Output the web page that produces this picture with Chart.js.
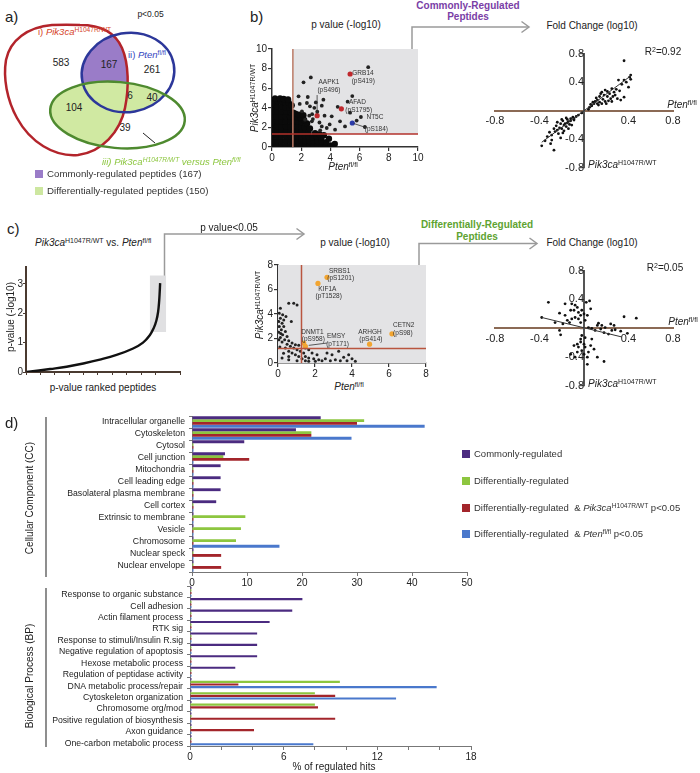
<!DOCTYPE html>
<html><head><meta charset="utf-8">
<script src="https://cdn.jsdelivr.net/npm/chart.js@4.4.0/dist/chart.umd.min.js"></script>
<style>
body{margin:0;background:#fff;width:700px;height:773px;position:relative;overflow:hidden;font-family:"Liberation Sans",Arial,sans-serif;color:#222}
.t{position:absolute;white-space:nowrap;line-height:1}
canvas{position:absolute}
sup{font-size:0.7em;vertical-align:0.5em;line-height:0}
.sq{position:absolute;width:8px;height:8px}
</style></head><body>
<svg id="venn" width="250" height="200" style="position:absolute;left:0;top:0">
<defs>
<path id="redShape" d="M80,25 C100,25 115,32 122,48 C129,64 129,88 125,108 C120,132 102,152 78,155 C54,157 30,142 17,118 C7,100 3,78 6,60 C10,40 28,27 52,25 C62,24.5 71,24.5 80,25 Z"/>
<ellipse id="blueShape" cx="128" cy="72.5" rx="46.5" ry="39.5" transform="rotate(-10 128 72.5)"/>
<ellipse id="greenShape" cx="117.5" cy="115" rx="67.5" ry="33" transform="rotate(5 117.5 115)"/>
<clipPath id="cRed"><use href="#redShape"/></clipPath>
<clipPath id="cBlue"><use href="#blueShape"/></clipPath>
</defs>
<g clip-path="url(#cRed)"><use href="#blueShape" fill="#9a7cc8"/></g>
<g clip-path="url(#cRed)"><use href="#greenShape" fill="#d0e9a2"/></g>
<g clip-path="url(#cBlue)"><use href="#greenShape" fill="#d0e9a2"/></g>
<use href="#redShape" fill="none" stroke="#b3242b" stroke-width="2.5"/>
<use href="#blueShape" fill="none" stroke="#2c379a" stroke-width="2.5"/>
<use href="#greenShape" fill="none" stroke="#4e8a2f" stroke-width="2.5"/>
<line x1="143" y1="133" x2="155" y2="143" stroke="#222" stroke-width="1"/>
</svg>
<svg width="700" height="773" style="position:absolute;left:0;top:0;pointer-events:none">
<g fill="none" stroke="#9a9a9a" stroke-width="1.5">
<path d="M412,56 V27 H528"/><path d="M521.5,21.5 L529,27 L521.5,32.5"/>
<path d="M164.5,278 V234 H303"/><path d="M296.5,228.5 L304,234 L296.5,239.5"/>
<path d="M419,273 V243.5 H536"/><path d="M529.5,238 L537,243.5 L529.5,249"/>
</g>
<g stroke="#444" stroke-width="1.2"><line x1="46" y1="417" x2="46" y2="577"/><line x1="46" y1="588" x2="46" y2="747"/></g>
</svg>
<script>
// ---------------- DATA ----------------
const ccCategories = ['Intracellular organelle','Cytoskeleton','Cytosol','Cell junction','Mitochondria','Cell leading edge','Basolateral plasma membrane','Cell cortex','Extrinsic to membrane','Vesicle','Chromosome','Nuclear speck','Nuclear envelope'];
const ccCommon   = [23.4,18.9,9.5,6.0,5.2,5.2,5.2,4.4,0,0,0,0,0];
const ccDiff     = [31.3,21.7,0,5.7,0,0,0,0,9.7,8.9,8.0,0,0];
const ccDiffPik  = [30.0,21.7,0,10.4,0,0,0,0,0,0,0,5.3,5.3];
const ccDiffPten = [42.3,29.0,0,0,0,0,0,0,0,0,15.9,0,0];

const bpCategories = ['Response to organic substance','Cell adhesion','Actin filament process','RTK sig','Response to stimuli/Insulin R.sig','Negative regulation of apoptosis','Hexose metabolic process','Regulation of peptidase activity','DNA metabolic process/repair','Cytoskeleton organization','Chromosome org/mod','Positive regulation of biosynthesis','Axon guidance','One-carbon metabolic process'];
const bpCommon   = [0,7.2,6.55,5.1,4.3,4.3,4.3,2.9,0,0,0,0,0,0];
const bpDiff     = [0,0,0,0,0,0,0,0,9.6,8.0,8.0,0,0,0];
const bpDiffPik  = [0,0,0,0,0,0,0,0,3.1,9.3,8.2,9.3,4.1,0];
const bpDiffPten = [0,0,0,0,0,0,0,0,15.8,13.2,0,0,0,7.9];

const seriesColors = ['#4b2b80','#8dc63f','#a3252b','#4a78cc'];

// panel b: p value (-log10) scatter
const bCloud = [
[0.05,0.1],[0.08,0.6],[0.04,1.1],[0.07,1.6],[0.05,2.1],[0.08,2.6],[0.04,3.1],[0.07,3.6],[0.05,4.1],[0.1,4.6],
[0.35,0.12],[0.37,0.62],[0.34,1.12],[0.36,1.62],[0.35,2.12],[0.38,2.6],[0.34,3.12],[0.36,3.62],[0.35,4.12],[0.38,4.7],
[0.65,0.1],[0.66,0.6],[0.64,1.1],[0.67,1.6],[0.65,2.1],[0.66,2.62],[0.64,3.1],[0.67,3.6],[0.65,4.1],[0.62,4.65],
[0.95,0.12],[0.96,0.62],[0.94,1.12],[0.97,1.62],[0.95,2.12],[0.96,2.6],[0.94,3.12],[0.97,3.62],[0.95,4.05],[0.9,4.55],
[1.25,0.1],[1.26,0.6],[1.24,1.1],[1.27,1.6],[1.25,2.1],[1.26,2.62],[1.24,3.1],[1.27,3.55],[1.2,4.0],[1.15,4.5],
[1.48,0.12],[1.5,0.62],[1.47,1.12],[1.5,1.62],[1.48,2.12],[1.5,2.6],[1.46,3.1],[1.45,3.5],
[1.75,0.1],[1.77,0.6],[1.74,1.1],[1.76,1.6],[1.75,2.1],[1.76,2.6],[1.72,3.05],
[2.02,0.12],[2.04,0.62],[2.01,1.12],[2.03,1.6],[2.0,2.1],[2.02,2.55],[1.98,2.95],
[2.28,0.1],[2.3,0.6],[2.27,1.1],[2.3,1.55],[2.25,2.0],
[2.55,0.12],[2.57,0.6],[2.53,1.05],[2.5,1.5],[2.82,0.1],[2.85,0.55],[2.8,1.0],
[3.1,0.12],[3.12,0.6],[3.08,1.05],[3.4,0.1],[3.42,0.55],[3.38,0.95],[3.7,0.12],[3.72,0.5],[4.0,0.15],[4.15,0.08],
[0.2,4.95],[0.55,4.95],[0.8,4.9],[1.1,4.85],[1.35,4.25],[1.6,3.4],[1.85,3.3],[2.15,3.25],[2.4,2.4],[2.6,1.9],
[2.95,1.4],[3.25,1.3],[3.55,1.2],[3.9,0.85],[4.3,0.3],[2.2,2.75]];
const bScatter = [
[6.59,8.15],[2.66,7.1],[2.16,6.6],[5.5,5.2],[5.18,4.62],[1.82,5.17],[3.52,4.83],[3.41,4.22],[2.6,4.15],[2.39,4.49],
[2.05,3.64],[2.27,2.79],[4.09,3.13],[4.66,2.62],[3.75,1.94],[4.32,1.77],[5.0,2.1],[6.09,3.06],[6.36,2.04],[5.8,2.7],
[2.9,4.0],[3.0,4.55],[2.75,3.35],[3.25,2.5],[2.55,3.2],[3.6,3.2],[4.5,4.1],[3.1,3.6],[1.9,4.4],[2.45,5.1],
[3.3,1.7],[3.95,2.3],[2.8,2.85],[5.35,3.5],[3.41,2.1],[2.73,2.62]];
const bRed  = [[5.35,7.45],[4.75,3.9],[3.09,3.2]];
const bBlue = [[5.5,2.45]];
const bCut = [1.43,1.33];
const bLabels = [['GRB14',6.23,7.48],['(pS419)',6.25,6.7],['AAPK1',3.9,6.63],['(pS496)',3.9,5.82],['AFAD',5.85,4.56],['(pS1795)',5.94,3.74],['NT5C',7.05,3.06],['(pS184)',7.15,1.77]];

// panel b: fold change
const bFold = [
[0.36,0.70],[0.42,0.50],[0.41,0.47],[0.42,0.44],[0.31,0.43],[0.36,0.43],[0.40,0.33],[0.36,0.19],[0.15,0.24],[0.19,0.29],
[0.25,0.31],[0.27,0.26],[0.21,0.20],[0.24,0.17],[0.30,0.17],[0.33,0.15],[0.10,0.13],[0.09,0.10],[0.12,0.15],[0.14,0.12],
[0.16,0.10],[0.19,0.13],[0.13,0.08],[0.07,0.07],[0.05,0.05],[0.17,0.16],[0.22,0.14],[0.26,0.20],[0.28,0.22],[0.32,0.28],
[0.18,0.22],[0.11,0.18],[0.20,0.10],[0.23,0.24],[0.14,0.20],[0.08,0.12],[0.29,0.30],[0.34,0.37],[0.38,0.40],[0.25,0.13],
[0.16,0.26],[0.12,0.10],[0.06,0.09],[0.21,0.27],[0.04,0.02],
[-0.38,-0.49],[-0.27,-0.55],[-0.33,-0.36],[-0.29,-0.34],[-0.24,-0.27],[-0.20,-0.25],[-0.17,-0.18],[-0.14,-0.15],[-0.09,-0.13],[-0.12,-0.11],
[-0.15,-0.12],[-0.18,-0.20],[-0.21,-0.18],[-0.16,-0.22],[-0.23,-0.32],[-0.29,-0.41],[-0.21,-0.38],[-0.25,-0.21],[-0.19,-0.14],[-0.13,-0.19],
[-0.10,-0.09],[-0.07,-0.08],[-0.05,-0.06],[-0.22,-0.24],[-0.26,-0.29],[-0.31,-0.30],[-0.35,-0.42],[-0.18,-0.28],[-0.15,-0.17],[-0.12,-0.14],
[-0.20,-0.12],[-0.16,-0.10],[-0.11,-0.20],[-0.24,-0.16],[-0.27,-0.25],[-0.14,-0.25],[-0.09,-0.11],[-0.19,-0.31],[-0.02,-0.03],[-0.30,-0.46]];
const bFit = [[-0.38,-0.44],[0.43,0.5]];

// panel c: ranked p-values
const rankPos = [5,90,167,282,398,513,629,744,813,860,888,906,918,925,929,932];
const rankP   = [0.0,0.05,0.1,0.18,0.29,0.42,0.58,0.8,1.0,1.25,1.5,1.75,2.05,2.4,2.72,3.02];
const rankBox = [861,973,1.36,3.28];

// panel c: p value (-log10) scatter
const cPoints = [
[0.58,4.88],[0.85,4.88],[1.03,4.74],[0.07,4.07],[0.25,3.93],[0.13,3.66],[0.04,3.39],[0.22,3.25],[0.07,2.98],[0.31,2.98],
[0.18,2.71],[0.04,2.52],[0.4,2.57],[0.25,2.3],[0.13,2.09],[0.49,2.17],[0.36,1.9],[0.58,1.82],[0.22,1.71],[0.76,1.63],
[0.49,1.54],[0.94,1.49],[0.67,1.36],[1.12,1.44],[0.85,1.22],[0.4,1.22],[1.03,1.08],[0.58,0.95],[1.21,0.95],[0.76,0.81],
[1.39,0.81],[0.94,0.68],[1.48,0.54],[1.12,0.54],[1.66,0.41],[1.3,0.35],[1.93,0.35],[2.2,0.27],[2.38,0.19],[2.65,0.81],
[2.83,0.19],[3.1,0.27],[3.28,0.95],[3.55,0.46],[3.73,0.19],[4.0,0.35],[4.18,0.14],[2.02,0.14],[1.66,0.14],[2.56,0.35],
[0.31,3.52],[0.43,3.79],[0.13,4.47],[0.72,3.39],[1.48,1.22],[1.66,1.08],[1.84,0.81],[2.11,0.68],[2.92,0.68],[3.82,0.68],
[3.37,0.19],[1.48,0.19],[1.03,0.19],[0.58,0.27],[0.22,0.41],[0.58,0.54],[0.1,1.3],[0.3,0.8],[0.05,1.9],[0.15,2.4]];
const cOrange = [[2.65,6.99],[2.16,6.5],[1.39,1.63],[1.48,1.36],[4.95,1.54],[6.16,2.38]];
const cCut = [1.27,1.18];
const cLabels = [['SRBS1',3.33,7.53],['(pS1201)',3.39,6.96],['KIF1A',2.67,6.04],['(pT1528)',2.74,5.47],['DNMT1',1.86,2.49],['(pS958)',1.91,1.95],['EMSY',3.14,2.22],['(pT171)',3.22,1.57],['ARHGH',4.97,2.49],['(pS414)',5.02,1.95],['CETN2',6.79,3.06],['(pS98)',6.75,2.44]];

// panel c: fold change
const cFold = [
[-0.32,0.36],[-0.38,0.15],[-0.22,0.21],[-0.21,-0.09],[-0.22,-0.03],[-0.17,0.18],[-0.15,0.11],[-0.13,0.08],[-0.12,0.25],[-0.11,0.34],
[-0.08,0.32],[-0.09,0.25],[-0.06,0.29],[-0.05,0.22],[-0.03,0.18],[-0.02,0.25],[0.0,0.2],[0.02,0.36],[0.05,0.38],[0.06,0.27],
[0.03,0.18],[0.01,0.11],[-0.05,0.13],[-0.08,0.15],[-0.11,0.13],[-0.03,0.08],[-0.17,0.34],[-0.19,0.06],[-0.26,0.08],
[0.36,0.16],[0.47,0.14],[0.12,0.04],[0.15,-0.01],[0.19,0.01],[0.27,0.04],[0.28,-0.02],[0.22,-0.08],[0.18,-0.06],[0.10,-0.03],
[0.07,0.0],[0.13,0.07],[0.24,0.06],[0.33,-0.04],[0.39,-0.07],[0.04,0.01],[0.16,0.04],[0.25,-0.03],
[-0.03,-0.15],[0.0,-0.22],[-0.02,-0.31],[-0.06,-0.33],[-0.08,-0.40],[0.03,-0.40],[0.03,-0.50],[0.18,-0.46],[0.12,-0.40],[0.01,-0.26],
[0.06,-0.24],[0.07,-0.15],[-0.06,-0.22],[-0.09,-0.24],[-0.05,-0.26],[-0.02,-0.10],[-0.03,-0.19],[0.0,-0.36],[0.04,-0.33],[0.09,-0.29],
[-0.12,-0.36],[0.01,-0.13]];
const cFit = [[-0.38,0.15],[0.34,-0.12]];

// ---------------- HELPERS ----------------
Chart.defaults.font.family = '"Liberation Sans", Arial, sans-serif';
Chart.defaults.color = '#222';
const pts = a => a.map(p => ({x:p[0], y:p[1]}));
function tx(html, x, y, style, anchor){
  const d = document.createElement('div'); d.className='t'; d.innerHTML = html;
  let tr = 'translate(-50%,-50%)';
  if (anchor==='l') tr = 'translate(0,-50%)';
  if (anchor==='r') tr = 'translate(-100%,-50%)';
  if (anchor==='rot') tr = 'translate(-50%,-50%) rotate(-90deg)';
  d.style.cssText = 'left:'+x+'px;top:'+y+'px;transform:'+tr+';'+(style||'');
  document.body.appendChild(d);
}
function sq(x,y,c){const d=document.createElement('div');d.className='sq';d.style.cssText='left:'+x+'px;top:'+y+'px;background:'+c;document.body.appendChild(d);}
function mk(area, m, cfg, fixed){
  const c = document.createElement('canvas');
  const w = area[2]-area[0]+m.l+m.r, h = area[3]-area[1]+m.t+m.b;
  c.width = w; c.height = h;
  c.style.left=(area[0]-m.l)+'px'; c.style.top=(area[1]-m.t)+'px';
  c.style.width=w+'px'; c.style.height=h+'px';
  document.body.appendChild(c);
  const o = cfg.options;
  o.responsive=false; o.animation=false; o.devicePixelRatio=1; o.events=[];
  o.plugins = Object.assign({legend:{display:false},tooltip:{enabled:false}}, o.plugins||{});
  if (fixed){
    o.layout = {padding:{left:0,top:m.t,right:m.r,bottom:0}};
    o.scales.x.afterFit = s => { s.height = m.b; };
    o.scales.y.afterFit = s => { s.width = m.l; };
  } else {
    o.layout = {padding:{left:m.l,top:m.t,right:m.r,bottom:m.b}};
  }
  return new Chart(c, cfg);
}
function axisLin(min,max,step,extra){
  return Object.assign({type:'linear',min:min,max:max,
    ticks:{stepSize:step,font:{size:10},padding:1,maxRotation:0,includeBounds:false},
    grid:{drawOnChartArea:false,tickLength:4,color:'#333',lineWidth:1.2},
    border:{color:'#333',width:1.5}}, extra||{});
}
function rect(ch,x0,x1,y0,y1,color){
  const {ctx,scales:{x,y}}=ch; const a=x.getPixelForValue(x0),b=x.getPixelForValue(x1),c=y.getPixelForValue(y1),d=y.getPixelForValue(y0);
  ctx.save();ctx.fillStyle=color;ctx.fillRect(a,c,b-a,d-c);ctx.restore();
}
function seg(ch,x0,y0,x1,y1,color,w){
  const {ctx,scales:{x,y}}=ch; ctx.save();ctx.strokeStyle=color;ctx.lineWidth=w;ctx.beginPath();
  ctx.moveTo(x.getPixelForValue(x0),y.getPixelForValue(y0));ctx.lineTo(x.getPixelForValue(x1),y.getPixelForValue(y1));ctx.stroke();ctx.restore();
}
function labels(ch,list){
  const {ctx,scales:{x,y}}=ch; ctx.save();ctx.font='6.5px "Liberation Sans", Arial';ctx.fillStyle='#333';ctx.textAlign='center';ctx.textBaseline='middle';
  list.forEach(l=>ctx.fillText(l[0],x.getPixelForValue(l[1]),y.getPixelForValue(l[2])));ctx.restore();
}
const fmt = v => Math.abs(v)<1e-6 ? '' : String(Math.round(v*10)/10);
function foldCfg(data, fit){
  return {type:'scatter',
    data:{datasets:[
      {data:pts(fit),showLine:true,borderColor:'#333',borderWidth:1,pointRadius:0},
      {data:pts(data),backgroundColor:'#111',borderWidth:0,pointRadius:1.4}]},
    options:{scales:{
      x:{type:'linear',position:{y:0},min:-0.8,max:0.8,ticks:{stepSize:0.4,callback:fmt,font:{size:11},padding:4,maxRotation:0},
         grid:{drawOnChartArea:false,drawTicks:false},border:{color:'#8b6a55',width:2}},
      y:{type:'linear',position:{x:0},min:-0.8,max:0.8,ticks:{stepSize:0.4,callback:fmt,font:{size:11},padding:2},
         grid:{drawOnChartArea:false,tickLength:3,color:'#555',lineWidth:1.2},border:{color:'#555',width:2}}}}};
}
function barCfg(cats, sets, xmax, step, labelEvery, catPct, barPct, lblOff){
  return {type:'bar',
    data:{labels:cats,datasets:sets.map((s,i)=>({data:s,backgroundColor:seriesColors[i],borderWidth:0,minBarLength:1.5,categoryPercentage:catPct,barPercentage:barPct}))},
    options:{indexAxis:'y',scales:{
      y:{type:'category',ticks:{autoSkip:false,font:{size:8.7},color:'#222',padding:4,labelOffset:lblOff},
         grid:{drawOnChartArea:false,tickLength:3,color:'#777',offset:true},border:{color:'#777',width:1}},
      x:{type:'linear',min:0,max:xmax,ticks:{stepSize:step,font:{size:10},padding:1,maxRotation:0,
           callback:v=> (Math.round(v)%labelEvery===0 ? String(Math.round(v)) : '')},
         grid:{drawOnChartArea:false,tickLength:4,color:'#777'},border:{color:'#777',width:1}}}}};
}

// ---------------- CHARTS ----------------
// b) p value scatter
mk([272,49,418,147],{l:30,t:8,r:10,b:16},{type:'scatter',
  data:{datasets:[
    {data:pts(bBlue),backgroundColor:'#2a3aa8',pointRadius:2.6,borderWidth:0},
    {data:pts(bRed),backgroundColor:'#c0282d',pointRadius:2.6,borderWidth:0},
    {data:pts(bScatter),backgroundColor:'#222',pointRadius:1.9,borderWidth:0},
    {data:pts(bCloud),backgroundColor:'#0a0a0a',pointRadius:3.2,borderWidth:0}]},
  options:{scales:{x:axisLin(0,10,2),y:axisLin(0,10,2)}},
  plugins:[{id:'bdeco',
    beforeDatasetsDraw(ch){rect(ch,bCut[0],10,bCut[1],10,'#e3e3e5');},
    afterDatasetsDraw(ch){
      seg(ch,bCut[0],0,bCut[0],10,'#bb7a66',1.5);
      seg(ch,0,bCut[1],10,bCut[1],'#b3322b',1.5);
      seg(ch,3.09,5.3,3.09,3.35,'#333',0.8);
      seg(ch,5.6,2.4,6.5,1.95,'#333',0.8);
      labels(ch,bLabels);}}]},true);

// b) fold change
mk([495,53,673,168],{l:16,t:8,r:16,b:10},foldCfg(bFold,bFit),false);

// c) ranked p-values
mk([26,267,180,372],{l:18,t:6,r:6,b:8},{type:'scatter',
  data:{datasets:[{data:rankPos.map((x,i)=>({x:x,y:rankP[i]})),showLine:true,borderColor:'#111',borderWidth:2.4,pointRadius:0,tension:0.4}]},
  options:{scales:{
    x:axisLin(0,1070,100,{ticks:{stepSize:100,callback:()=>''},grid:{drawOnChartArea:false,tickLength:3,color:'#4a3a30',lineWidth:1},border:{color:'#4a3a30',width:2}}),
    y:axisLin(0,3.57,1,{ticks:{stepSize:1,font:{size:10},padding:0,includeBounds:false},grid:{drawOnChartArea:false,tickLength:3,color:'#4a3a30',lineWidth:1},border:{color:'#4a3a30',width:2}})}},
  plugins:[{id:'rbox',beforeDatasetsDraw(ch){rect(ch,rankBox[0],rankBox[1],rankBox[2],rankBox[3],'#e0e0e2');}}]},true);

// c) p value scatter
mk([278,265,426,363],{l:22,t:8,r:8,b:16},{type:'scatter',
  data:{datasets:[
    {data:pts(cOrange),backgroundColor:'#f2a531',pointRadius:2.6,borderWidth:0},
    {data:pts(cPoints),backgroundColor:'#222',pointRadius:1.5,borderWidth:0}]},
  options:{scales:{x:axisLin(0,8,2),y:axisLin(0,8,2)}},
  plugins:[{id:'cdeco',
    beforeDatasetsDraw(ch){rect(ch,0,8,0,8,'#e3e3e5');},
    afterDatasetsDraw(ch){
      seg(ch,cCut[0],0,cCut[0],8,'#b9553f',1.5);
      seg(ch,0,cCut[1],8,cCut[1],'#b9553f',1.5);
      seg(ch,1.66,1.44,2.65,1.63,'#333',0.8);
      labels(ch,cLabels);}}]},true);

// c) fold change
mk([495,270,673,386],{l:16,t:8,r:16,b:10},foldCfg(cFold,cFit),false);

// d) Cellular component
mk([192,416,467,572],{l:190,t:12,r:14,b:18},barCfg(ccCategories,[ccCommon,ccDiff,ccDiffPik,ccDiffPten],50,10,10,0.95,1.0,-0.5),true);
// d) Biological process
mk([190,586,471,746],{l:188,t:12,r:14,b:18},barCfg(bpCategories,[bpCommon,bpDiff,bpDiffPik,bpDiffPten],18,2,6,0.93,0.8,3),true);

// ---------------- TEXT ----------------
const PIK = '<i>Pik3ca</i><sup>H1047R/WT</sup>', PTEN = '<i>Pten</i><sup>fl/fl</sup>';
// a
tx('a)',5,16,'font-size:15px','l');
tx('p&lt;0.05',150.5,14,'font-size:8.5px','c');
tx('i) '+PIK,38,32,'font-size:9.5px;color:#d6452b','l');
tx('ii) '+PTEN,128,55,'font-size:9.5px;color:#3546c0','l');
[['583',61,63],['167',109,65],['261',152,70],['6',130,96],['40',152,98],['104',74,108],['39',125,128]].forEach(n=>tx(n[0],n[1],n[2],'font-size:10px','c'));
tx('<i>iii) Pik3ca<sup>H1047R/WT</sup> versus Pten<sup>fl/fl</sup></i>',102,162,'font-size:9.5px;color:#8cc63f','l');
sq(35,170,'#9a7cc8'); sq(35,187,'#cde7a0');
tx('Commonly-regulated peptides (167)',47,174,'font-size:9.7px;color:#333','l');
tx('Differentially-regulated peptides (150)',47,191,'font-size:9.7px;color:#333','l');
// b
tx('b)',250,16,'font-size:15px','l');
tx('p value (-log10)',346,25,'font-size:10px','c');
tx('Commonly-Regulated',468,6,'font-size:10px;font-weight:bold;color:#7a3ea6','c');
tx('Peptides',468,17,'font-size:10px;font-weight:bold;color:#7a3ea6','c');
tx('Fold Change (log10)',592,26,'font-size:10px','c');
tx(PTEN,343,167,'font-size:10px','c');
tx(PIK,255,98,'font-size:10px','rot');
tx('R<sup>2</sup>=0.92',663,52,'font-size:10px','c');
tx(PTEN,682,105,'font-size:10px','c');
tx(PIK,588,165,'font-size:10px','l');
// c
tx('c)',7,228,'font-size:15px','l');
tx(PIK+' vs. '+PTEN,35,243,'font-size:10px','l');
tx('p value&lt;0.05',229,228,'font-size:10px','c');
tx('p value (-log10)',355,243,'font-size:10px','c');
tx('Differentially-Regulated',477,225,'font-size:10px;font-weight:bold;color:#5ea331','c');
tx('Peptides',477,237,'font-size:10px;font-weight:bold;color:#5ea331','c');
tx('Fold Change (log10)',592,243,'font-size:10px','c');
tx('R<sup>2</sup>=0.05',665,268,'font-size:10px','c');
tx(PTEN,683,322,'font-size:10px','c');
tx(PIK,588,384,'font-size:10px','l');
tx(PIK,260,305,'font-size:10px','rot');
tx(PTEN,349,387,'font-size:10px','c');
tx('p-value (-log10)',11,317,'font-size:10px','rot');
tx('p-value ranked peptides',103,388,'font-size:10px','c');
// d
tx('d)',5,422,'font-size:15px','l');
const legendTexts = ['Commonly-regulated','Differentially-regulated','Differentially-regulated&nbsp; &amp; '+PIK+' p&lt;0.05','Differentially-regulated&nbsp; &amp; '+PTEN+' p&lt;0.05'];
[454,481,508,534].forEach((y,i)=>{sq(462,y-4,seriesColors[i]);tx(legendTexts[i],474,y,'font-size:9.5px;color:#333','l');});
tx('Cellular Component (CC)',30,498,'font-size:10px','rot');
tx('Biological Process (BP)',30,676,'font-size:10px','rot');
tx('% of regulated hits',334,767,'font-size:10px','c');
</script>
</body></html>
